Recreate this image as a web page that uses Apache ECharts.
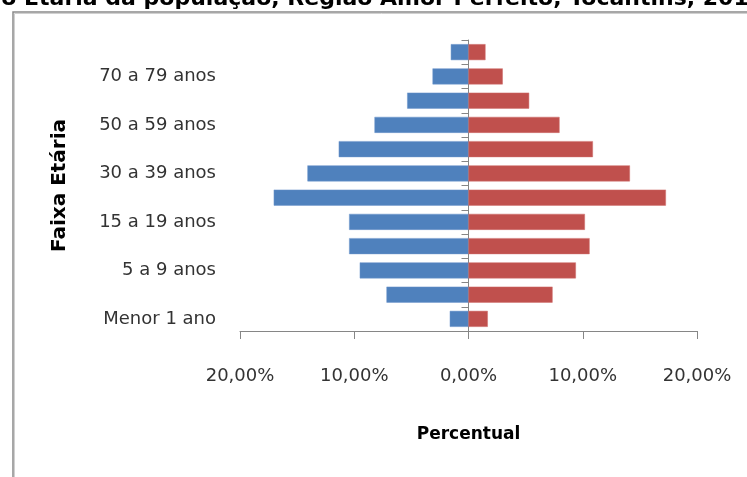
<!DOCTYPE html>
<html>
<head>
<meta charset="utf-8">
<script src="https://cdn.jsdelivr.net/npm/echarts@6/dist/echarts.min.js"></script>
<style>
html,body{margin:0;padding:0;background:#fff;}
#chart{width:747px;height:477px;}
</style>
</head>
<body>
<div id="chart"></div>
<script>
var titleText = 'Distribuição Etária da população, Região Amor Perfeito, Tocantins, 2010';
var categories = ['Menor 1 ano','1 a 4 anos','5 a 9 anos','10 a 14 anos','15 a 19 anos','20 a 29 anos','30 a 39 anos','40 a 49 anos','50 a 59 anos','60 a 69 anos','70 a 79 anos','80 anos e mais'];
var homens = [1.64, 7.18, 9.52, 10.45, 10.45, 17.05, 14.10, 11.36, 8.23, 5.37, 3.15, 1.55];
var mulheres = [1.69, 7.36, 9.40, 10.60, 10.19, 17.28, 14.13, 10.89, 7.97, 5.31, 3.00, 1.49];
var xTicks = [-20, -10, 0, 10, 20];

var FONT = 'DejaVu Sans';
var chart = echarts.init(document.getElementById('chart'));
chart.setOption({
  animation: false,
  graphic: [
    { type: 'rect', z: -1, shape: { x: 13, y: 12, width: 900, height: 700 },
      style: { fill: 'none', stroke: '#8a8a8a', lineWidth: 1.5 } },
    { type: 'rect', z: -1, shape: { x: 14.5, y: 13.5, width: 900, height: 700 },
      style: { fill: 'none', stroke: '#d0d0d0', lineWidth: 1 } },
    { type: 'text', x: 764, y: 10,
      style: { text: titleText, fill: '#000', font: 'bold 22px ' + FONT, textAlign: 'right', textVerticalAlign: 'bottom' } }
  ],
  grid: { left: 240, right: 50, top: 40, bottom: 146, containLabel: false },
  xAxis: {
    type: 'value', min: xTicks[0], max: xTicks[xTicks.length - 1], interval: 10,
    name: 'Percentual', nameLocation: 'middle', nameGap: 95,
    nameTextStyle: { fontFamily: FONT, fontWeight: 'bold', fontSize: 17, color: '#000' },
    axisLine: { show: true, lineStyle: { color: '#868686', width: 1 } },
    axisTick: { show: true, length: 8, lineStyle: { color: '#868686' } },
    splitLine: { show: false },
    axisLabel: { margin: 36, fontFamily: FONT, fontSize: 18, color: '#333',
      formatter: function (v) { return Math.abs(v).toFixed(2).replace('.', ',') + '%'; } }
  },
  yAxis: [
    {
      type: 'category', data: categories, position: 'left',
      name: 'Faixa Etária', nameLocation: 'middle', nameGap: 170, nameRotate: 90,
      nameTextStyle: { fontFamily: FONT, fontWeight: 'bold', fontSize: 20, color: '#000' },
      axisLine: { show: false, onZero: false },
      axisTick: { show: false },
      axisLabel: { interval: 1, margin: 24, fontFamily: FONT, fontSize: 18, color: '#333' }
    },
    {
      type: 'category', data: categories, position: 'right',
      axisLine: { show: true, onZero: true, lineStyle: { color: '#868686', width: 1 } },
      axisTick: { show: true, inside: true, interval: 0, length: 7, lineStyle: { color: '#868686' } },
      axisLabel: { show: false }
    }
  ],
  series: [
    { name: 'Homens', type: 'bar', stack: 'p', yAxisIndex: 0, barWidth: 16,
      itemStyle: { color: '#4F81BD', borderColor: '#6f97cc', borderWidth: 0.5 },
      data: homens.map(function (v) { return -v; }) },
    { name: 'Mulheres', type: 'bar', stack: 'p', yAxisIndex: 0, barWidth: 16,
      itemStyle: { color: '#C0504D', borderColor: '#cf6f6c', borderWidth: 0.5 },
      data: mulheres }
  ]
});
</script>
</body>
</html>
